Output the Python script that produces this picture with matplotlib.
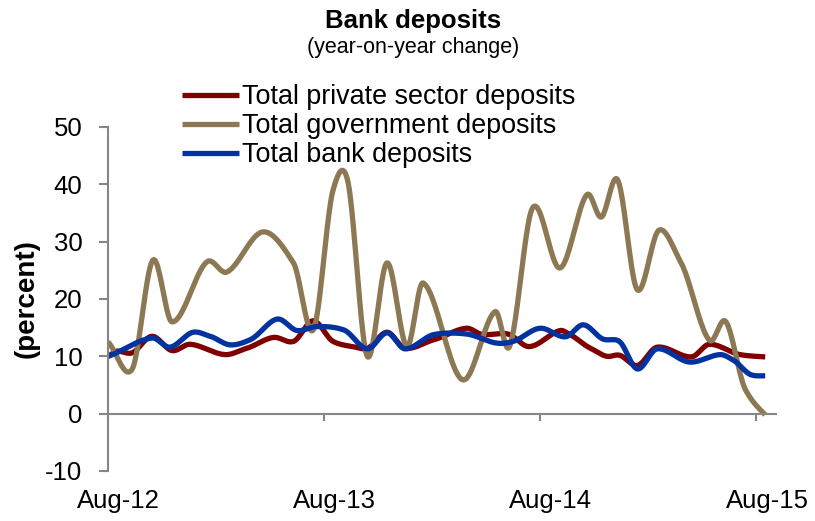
import matplotlib
matplotlib.use("Agg")
import matplotlib.pyplot as plt
import numpy as np

plt.rcParams['font.family'] = ['Liberation Sans', 'DejaVu Sans']
plt.rcParams['axes.unicode_minus'] = False

# months since Aug-12
tick_pos = [0, 12, 24, 36]
tick_labels = ["Aug-12", "Aug-13", "Aug-14", "Aug-15"]

private_x = [0, 0.5, 1.33, 2.44, 3.56, 4.56, 6.5, 7.7, 9.2, 10.3, 11.4, 12.5, 13.6, 14.4,
             15.5, 16.5, 18.1, 19.9, 20.8, 22.2, 23.4, 25.1, 25.6, 26.8, 27.7, 28.4, 29.4,
             30.5, 32.4, 33.4, 35.1, 36.5]
private_y = [10.0, 10.9, 10.6, 13.5, 11.0, 12.1, 10.3, 11.4, 13.3, 12.6, 16.2, 12.6, 11.7, 11.4,
             14.2, 11.4, 12.9, 14.9, 13.8, 13.9, 11.7, 14.5, 13.9, 11.4, 10.0, 10.2, 8.4,
             11.6, 9.9, 12.1, 10.3, 9.9]

gov_x = [0, 1.33, 2.5, 3.56, 5.5, 6.6, 8.6, 10.3, 11.4, 12.5, 13.3, 14.4, 15.5, 16.6, 17.5,
         19.7, 21.5, 22.3, 23.6, 25.1, 26.6, 27.4, 28.3, 29.4, 30.6, 31.8, 33.4, 34.3, 35.4, 36.5]
gov_y = [12.5, 7.7, 26.8, 16.0, 26.5, 24.7, 31.7, 26.3, 14.6, 39.0, 40.8, 10.0, 26.3, 11.7, 22.8,
         5.9, 17.8, 11.7, 36.0, 25.4, 38.2, 34.3, 40.8, 21.6, 32.0, 26.5, 12.8, 16.1, 4.2, -0.2]

bank_x = [0, 2.44, 3.44, 4.72, 5.67, 6.78, 7.9, 9.4, 10.5, 11.6, 13.1, 14.4, 15.5, 16.5, 18.1,
          19.9, 21.6, 22.5, 24.0, 25.4, 26.4, 27.5, 28.4, 29.4, 30.5, 32.3, 34.0, 34.7, 35.7, 36.5]
bank_y = [10.0, 13.2, 11.6, 14.2, 13.5, 12.0, 12.9, 16.5, 14.5, 15.2, 14.6, 11.3, 14.1, 11.3, 13.8,
          13.9, 12.3, 12.6, 14.9, 13.4, 15.5, 13.0, 12.6, 7.8, 11.3, 9.0, 10.3, 9.4, 6.8, 6.6]


def smooth(x, y, n=24, tension=0.8):
    # cubic hermite curve through the points, like a smoothed line in a spreadsheet
    x = np.asarray(x, float)
    y = np.asarray(y, float)
    m = np.empty_like(y)
    m[1:-1] = (y[2:] - y[:-2]) / (x[2:] - x[:-2])
    m[0] = (y[1] - y[0]) / (x[1] - x[0])
    m[-1] = (y[-1] - y[-2]) / (x[-1] - x[-2])
    m *= tension
    xs, ys = [], []
    for i in range(len(x) - 1):
        h = x[i + 1] - x[i]
        t = np.linspace(0, 1, n, endpoint=False)
        h00 = 2 * t**3 - 3 * t**2 + 1
        h10 = t**3 - 2 * t**2 + t
        h01 = -2 * t**3 + 3 * t**2
        h11 = t**3 - t**2
        xs.append(x[i] + t * h)
        ys.append(h00 * y[i] + h10 * h * m[i] + h01 * y[i + 1] + h11 * h * m[i + 1])
    xs.append([x[-1]])
    ys.append([y[-1]])
    return np.concatenate(xs), np.concatenate(ys)


fig = plt.figure(figsize=(8.15, 5.21), dpi=100)
ax = fig.add_axes([108 / 815, 50 / 521, (776 - 108) / 815, (471 - 127) / 521])

series = [
    ("Total private sector deposits", private_x, private_y, "#800000"),
    ("Total government deposits", gov_x, gov_y, "#8C7853"),
    ("Total bank deposits", bank_x, bank_y, "#0033A0"),
]
for label, xv, yv, col in series:
    sx, sy = smooth(xv, yv)
    ax.plot(sx, sy, color=col, lw=3.8, label=label, solid_capstyle='butt')

ax.set_xlim(0, 37.1)
ax.set_ylim(-10, 50)
ax.set_yticks(range(-10, 51, 10))
# tick marks on the year boundaries, labels sit a little to the right of them
ax.set_xticks(tick_pos)
ax.set_xticklabels([])
ax.set_xticks([p + 0.6 for p in tick_pos], minor=True)
ax.set_xticklabels(tick_labels, minor=True)

axis_col = "#868686"
for s in ["top", "right"]:
    ax.spines[s].set_visible(False)
ax.spines["bottom"].set_position(("data", 0))
ax.spines["bottom"].set_color(axis_col)
ax.spines["left"].set_color(axis_col)
ax.spines["bottom"].set_linewidth(1.5)
ax.spines["left"].set_linewidth(1.5)
ax.tick_params(axis="y", direction="out", length=6.5, width=1.5, color=axis_col,
               labelsize=18.5, pad=12)
ax.tick_params(axis="x", which="major", direction="out", length=5, width=1.5, color=axis_col)
ax.tick_params(axis="x", which="minor", length=0, labelsize=18.5, pad=54)

ax.set_ylabel("(percent)", fontsize=20, fontweight="bold", labelpad=4)

fig.text(413 / 815, 1 - 21 / 521, "Bank deposits", ha="center", va="center",
         fontsize=18.5, fontweight="bold")
fig.text(413 / 815, 1 - 48 / 521, "(year-on-year change)", ha="center", va="center",
         fontsize=15.5)

ax.legend(loc="upper left", bbox_to_anchor=(182 / 815, 1 - 84 / 521),
          bbox_transform=fig.transFigure, frameon=False, fontsize=19.4,
          handlelength=2.1, handletextpad=0.12, labelspacing=0.12, borderpad=0,
          borderaxespad=0)

fig.savefig("out.png", dpi=100)
